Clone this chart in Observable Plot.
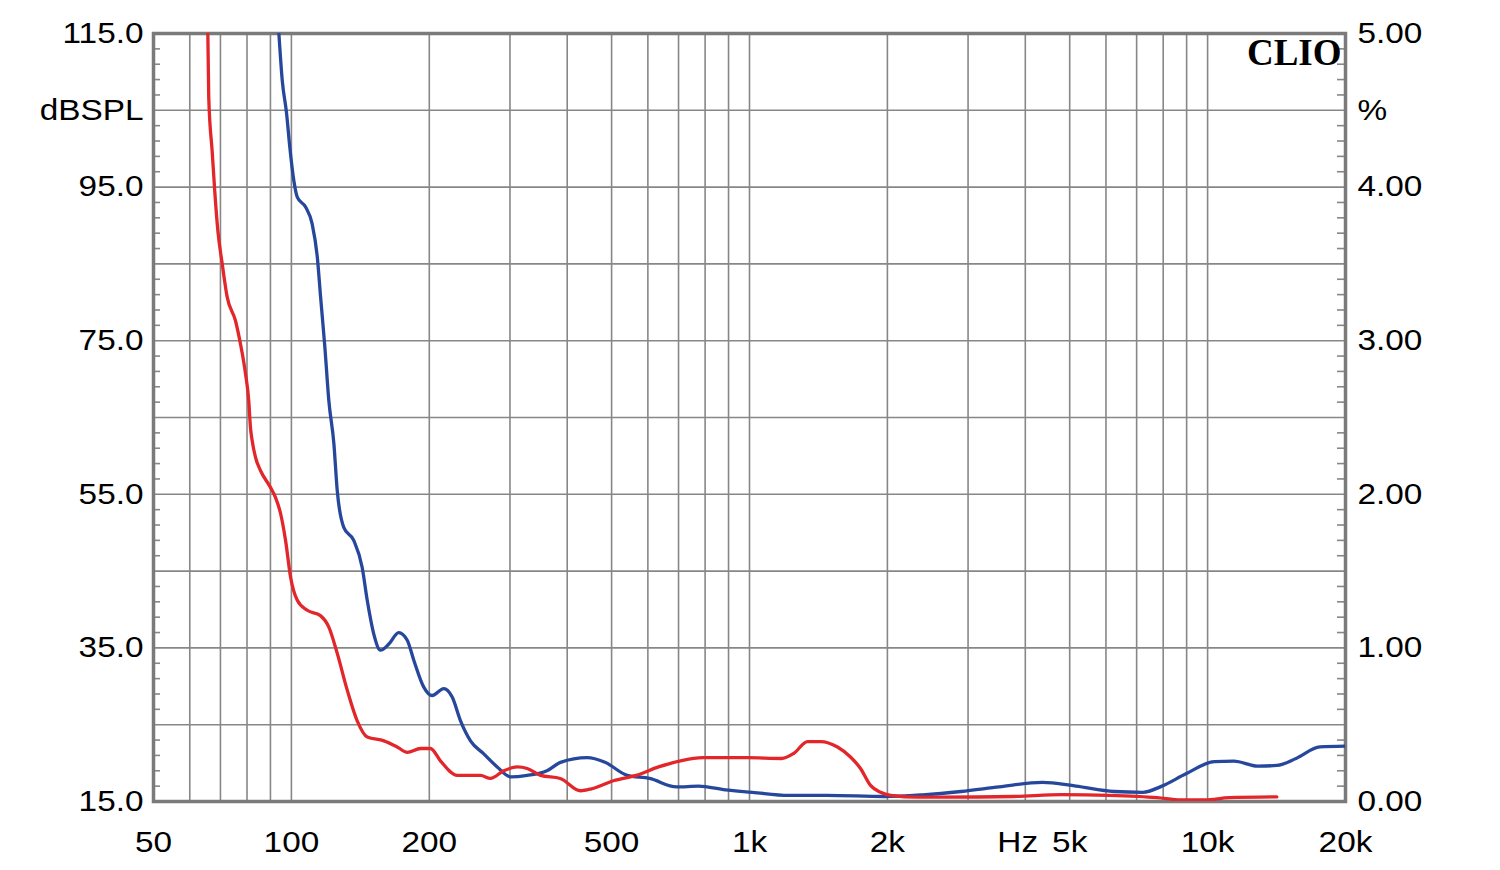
<!DOCTYPE html>
<html><head><meta charset="utf-8">
<script src="https://cdn.jsdelivr.net/npm/d3@7"></script>
<script src="https://cdn.jsdelivr.net/npm/@observablehq/plot@0.6"></script>
<style>body{margin:0;background:#fff} #chart svg{display:block}</style>
</head><body><div id="chart"></div>
<script>
// Red curve (Hz, dB)
const redFreq = [65.7,66.0,67.2,68.0,69.1,70.6,72.4,75.5,77.4,79.4,80.7,81.4,82.1,83.5,85.6,90.0,92.3,94.7,97.1,99.6,103,108.3,115.7,120.7,125.9,132.4,139.2,146.4,159.2,170.2,179,191.3,201.2,211.5,230.1,258.7,272,290.8,311.1,327.1,349.9,386.3,427.6,451.8,504.8,565.8,633,707,792,990,1175,1248,1339,1429,1556,1661,1747,1837,1932,2032,2333,2630,3770,4798,6105,7762,8754,9871,11135,14162];
const redDb   = [115,106.7,99.4,94.6,89.3,85.1,80.7,77.6,74.6,70.7,67.2,63.7,62.0,59.8,58.1,55.9,54.6,52.5,49.0,44.2,41.2,39.9,39.2,37.7,34.3,29.5,25.5,23.4,22.9,22.1,21.4,21.9,21.9,20.3,18.4,18.4,18.0,19.0,19.5,19.3,18.4,18.0,16.4,16.65,17.7,18.4,19.5,20.3,20.7,20.7,20.6,21.25,22.8,22.8,22.1,20.8,19.3,17.1,16.2,15.8,15.56,15.56,15.65,15.9,15.8,15.5,15.2,15.2,15.5,15.6];
// Blue curve (Hz, dB)
const blueFreq = [93.9,95.5,97.6,99.2,101.2,103,107.4,111,113.9,115.8,118.3,120.7,123.8,125.9,130.1,136.8,142.7,146.4,151.3,156.5,163.2,171.5,179,185,194.5,202.9,215.1,224.4,234,246,263,281.4,300.9,327.1,361.2,386.7,442.2,483.7,541,605,693,774,886,1014,1217,1477,1971,2386,2895,3510,4359,5159,6251,7222,7951,8969,10354,11409,12865,14162,15596,17586,20000];
const blueDb   = [115,108.9,104.6,100.2,95.9,93.7,92.4,90.2,85.9,80.7,74.2,67.2,61.6,55.5,50.7,49.0,45.5,41.2,36.8,34.7,35.5,37.0,36.0,33.4,29.9,28.8,29.7,28.6,25.5,22.9,21.2,19.5,18.2,18.4,19.0,20.1,20.7,20.1,18.4,18.0,16.9,17.0,16.5,16.2,15.8,15.8,15.65,15.87,16.3,16.9,17.5,17.0,16.3,16.2,17.0,18.6,20.2,20.25,19.6,19.7,20.6,22.1,22.2];

// Axis ticks and labels
const xTicks  = [50,100,200,500,1000,2000,3850,5000,10000,20000];
const xLabels = ["50","100","200","500","1k","2k","Hz","5k","10k","20k"];
const yTicks  = [115,105,95,75,55,35,15];
const leftLabels  = ["115.0","dBSPL","95.0","75.0","55.0","35.0","15.0"];
const rightLabels = ["5.00","%","4.00","3.00","2.00","1.00","0.00"];
const gridFreqs = [60,70,80,90,100,200,300,400,500,600,700,800,900,1000,2000,3000,4000,5000,6000,7000,8000,9000,10000];
const gridDb = [25,35,45,55,65,75,85,95,105];
const minorDb = d3.range(17,115,2).filter(v => (v - 15) % 10 !== 0);

const red = redFreq.map((f,i) => ({f, db: redDb[i]}));
const blue = blueFreq.map((f,i) => ({f, db: blueDb[i]}));

const gridColor = "#878787";
const chart = Plot.plot({
  width: 1500, height: 870,
  marginLeft: 153, marginRight: 155, marginTop: 33, marginBottom: 69,
  style: {fontFamily: "'Liberation Sans', Arial, sans-serif", fontSize: "29px", color: "#000", background: "#fff"},
  x: {type: "log", domain: [50, 20000]},
  y: {domain: [15, 115]},
  marks: [
    Plot.gridX(gridFreqs, {stroke: gridColor, strokeOpacity: 1, strokeWidth: 1.6}),
    Plot.gridY(gridDb, {stroke: gridColor, strokeOpacity: 1, strokeWidth: 1.6}),
    Plot.tickY(minorDb, {y: d => d, stroke: gridColor, strokeWidth: 1.6, insetRight: 1192 - 7}),
    Plot.tickY(minorDb, {y: d => d, stroke: gridColor, strokeWidth: 1.6, insetLeft: 1192 - 8}),
    Plot.frame({stroke: "#7a7a7a", strokeWidth: 3.5}),
    Plot.line(blue, {x: "f", y: "db", stroke: "#26479b", strokeWidth: 3.3, curve: "monotone-x", clip: true}),
    Plot.line(red, {x: "f", y: "db", stroke: "#e2262a", strokeWidth: 3.3, curve: "monotone-x", clip: true}),
    Plot.axisY(yTicks, {anchor: "left", label: null, tickSize: 0, tickPadding: 10, fontSize: 29, fill: "#000", tickFormat: d => leftLabels[yTicks.indexOf(d)]}),
    Plot.axisY(yTicks, {anchor: "right", label: null, tickSize: 0, tickPadding: 12, fontSize: 29, fill: "#000", tickFormat: d => rightLabels[yTicks.indexOf(d)]}),
    Plot.axisX(xTicks, {anchor: "bottom", label: null, tickSize: 0, tickPadding: 30, fontSize: 29, fill: "#000", tickFormat: d => xLabels[xTicks.indexOf(d)]}),
    Plot.text(["CLIO"], {frameAnchor: "top-right", text: d => d, textAnchor: "end", lineAnchor: "top", dx: -4, dy: 5,
      fontFamily: "'Liberation Serif', 'DejaVu Serif', serif", fontWeight: "bold", fontSize: 37, fill: "#000"})
  ]
});
document.getElementById("chart").appendChild(chart);
// The reference's sans-serif labels are drawn slightly wide; stretch them horizontally.
chart.querySelectorAll("g[aria-label$='axis tick label'] text").forEach(t => {
  const w = t.getComputedTextLength();
  if (w > 0) {
    t.setAttribute("textLength", (w * 1.15).toFixed(1));
    t.setAttribute("lengthAdjust", "spacingAndGlyphs");
  }
});
</script>
</body></html>
